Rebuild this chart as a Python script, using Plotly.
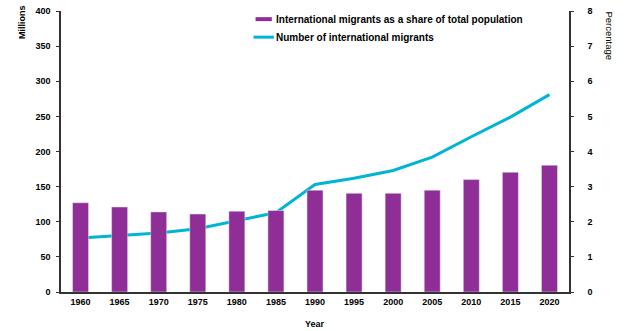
import plotly.graph_objects as go

years = ["1960", "1965", "1970", "1975", "1980", "1985", "1990",
         "1995", "2000", "2005", "2010", "2015", "2020"]
share_pct = [2.54, 2.42, 2.28, 2.22, 2.30, 2.32, 2.90, 2.81, 2.81, 2.90, 3.20, 3.41, 3.61]
migrants_mn = [77, 81, 84, 90, 102, 113, 153, 162, 173, 192, 221, 249, 281]

left_ticks = [0, 50, 100, 150, 200, 250, 300, 350, 400]
right_ticks = [0, 1, 2, 3, 4, 5, 6, 7, 8]

BAR = "#8E2E96"
LINE = "#00B4D3"
FONT = "Liberation Sans, Arial, sans-serif"
TICKFONT = dict(size=9, family=FONT, weight="bold", color="#000")

fig = go.Figure()
fig.add_trace(go.Bar(x=years, y=share_pct, yaxis="y2", marker_color=BAR,
                     width=0.41, name="International migrants as a share of total population",
                     showlegend=False))
fig.add_trace(go.Scatter(x=years, y=migrants_mn, mode="lines",
                         line=dict(color=LINE, width=3),
                         name="Number of international migrants", showlegend=False))

fig.update_layout(
    width=627, height=331,
    margin=dict(l=61, r=58, t=11, b=39, autoexpand=False),
    paper_bgcolor="white", plot_bgcolor="white",
    font=dict(family=FONT, size=9, color="#000"),
    xaxis=dict(type="category", range=[-0.5, 12.5], showline=True, linecolor="#333",
               linewidth=1.5, ticks="", tickfont=TICKFONT, automargin=False,
               showgrid=False, zeroline=False),
    yaxis=dict(range=[0, 400], tickvals=left_ticks, showline=True, linecolor="#333",
               linewidth=1.5, ticks="outside", ticklen=3, tickcolor="#333",
               showgrid=False, zeroline=False, tickfont=TICKFONT, automargin=False,
               ticklabelstandoff=4),
    yaxis2=dict(range=[0, 8], tickvals=right_ticks, overlaying="y", side="right",
                showline=True, linecolor="#333", linewidth=1.5, ticks="outside",
                ticklen=3, tickcolor="#333", showgrid=False, zeroline=False,
                tickfont=TICKFONT, automargin=False, ticklabelstandoff=12),
    showlegend=False,
)

# axis titles
fig.add_annotation(text="<b>Millions</b>", xref="paper", yref="paper", x=-0.078, y=1.03,
                   textangle=-90, showarrow=False, xanchor="center", yanchor="top",
                   font=dict(size=9, color="#000"))
fig.add_annotation(text="Percentage", xref="paper", yref="paper", x=1.08, y=1.005,
                   textangle=90, showarrow=False, xanchor="center", yanchor="top",
                   font=dict(size=9.5, color="#000"))
fig.add_annotation(text="<b>Year</b>", xref="paper", yref="paper", x=0.5, y=-0.09,
                   showarrow=False, xanchor="center", yanchor="top",
                   font=dict(size=9, color="#000"))

# manual legend
fig.add_shape(type="line", xref="paper", yref="paper", x0=0.383, x1=0.415,
              y0=0.971, y1=0.971, line=dict(color=BAR, width=4))
fig.add_shape(type="line", xref="paper", yref="paper", x0=0.379, x1=0.419,
              y0=0.907, y1=0.907, line=dict(color=LINE, width=3))
fig.add_annotation(text="<b>International migrants as a share of total population</b>",
                   xref="paper", yref="paper", x=0.419, y=0.971, xanchor="left",
                   yanchor="middle", showarrow=False, font=dict(size=10, color="#000"))
fig.add_annotation(text="<b>Number of international migrants</b>",
                   xref="paper", yref="paper", x=0.419, y=0.907, xanchor="left",
                   yanchor="middle", showarrow=False, font=dict(size=10, color="#000"))

fig.write_html("out.html")
